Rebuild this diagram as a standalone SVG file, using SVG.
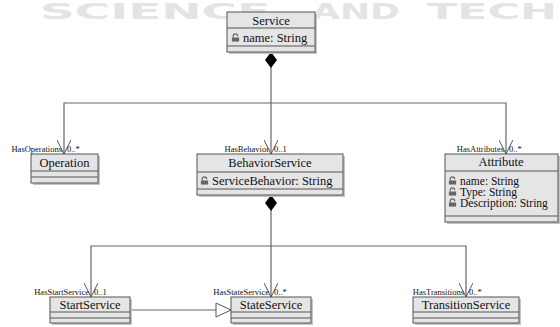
<svg xmlns="http://www.w3.org/2000/svg" width="560" height="327" viewBox="0 0 560 327">
<style>
.wm{font-family:"DejaVu Sans",sans-serif;font-weight:bold;font-size:22px;fill:#e4e4e4}
.box{fill:#e5e5e5;stroke:#555;stroke-width:1}
.sh{fill:#c4c4c4}
.sep{stroke:#555;stroke-width:1}
.t{font-family:"Liberation Serif",serif;font-size:12.5px;fill:#111}
.ta{font-family:"Liberation Serif",serif;font-size:11.5px;fill:#111}
.lb{font-family:"Liberation Serif",serif;font-size:8.5px;fill:#111}
.ln{fill:none;stroke:#666;stroke-width:1.2}
</style>
<defs>
<marker id="open" viewBox="0 0 14 14" refX="14" refY="7" markerWidth="14" markerHeight="14" markerUnits="userSpaceOnUse" orient="auto"><path d="M0,0 L14,7 L0,14" fill="none" stroke="#555" stroke-width="1"/></marker>
<marker id="dia" viewBox="0 0 16 12" refX="0" refY="6" markerWidth="16" markerHeight="12" markerUnits="userSpaceOnUse" orient="auto"><path d="M0,6 L8,0 L16,6 L8,12 Z" fill="#000"/></marker>
<marker id="tri" viewBox="0 0 17 15" refX="16" refY="7.5" markerWidth="17" markerHeight="15" markerUnits="userSpaceOnUse" orient="auto"><path d="M1,0.5 L16,7.5 L1,14.5 Z" fill="#fff" stroke="#555" stroke-width="1"/></marker>
<symbol id="lock" viewBox="0 0 10 10" width="9" height="9"><path d="M2.5,5 V3.5 A2.5,2.5 0 0 1 7.5,3.5" fill="none" stroke="#666" stroke-width="1.3"/><rect x="1" y="5" width="8" height="4.5" fill="#666"/></symbol>
</defs>
<g id="watermark">
<text class="wm" x="40" y="19" textLength="230" lengthAdjust="spacingAndGlyphs">SCIENCE</text>
<text class="wm" x="312" y="19" textLength="88" lengthAdjust="spacingAndGlyphs">AND</text>
<text class="wm" x="427" y="19" textLength="130" lengthAdjust="spacingAndGlyphs">TECH</text>
</g>
<g id="connectors">
<path class="ln" d="M271,52 V103" marker-start="url(#dia)"/>
<path class="ln" d="M271,103 H64 V154" marker-end="url(#open)"/>
<path class="ln" d="M271,103 V154" marker-end="url(#open)"/>
<path class="ln" d="M271,103 H506 V154" marker-end="url(#open)"/>
<path class="ln" d="M271,195 V246" marker-start="url(#dia)"/>
<path class="ln" d="M271,246 H91 V297" marker-end="url(#open)"/>
<path class="ln" d="M271,246 V297" marker-end="url(#open)"/>
<path class="ln" d="M271,246 H466 V297" marker-end="url(#open)"/>
<path class="ln" d="M130,310 H231" marker-end="url(#tri)"/>
<text class="lb" x="62" y="152" text-anchor="end">HasOperations</text><text class="lb" x="67" y="152">0..*</text>
<text class="lb" x="269" y="152" text-anchor="end">HasBehavior</text><text class="lb" x="274" y="152">0..1</text>
<text class="lb" x="504" y="152" text-anchor="end">HasAttributes</text><text class="lb" x="509" y="152">0..*</text>
<text class="lb" x="89" y="295" text-anchor="end">HasStartService</text><text class="lb" x="94" y="295">0..1</text>
<text class="lb" x="269" y="295" text-anchor="end">HasStateService</text><text class="lb" x="274" y="295">0..*</text>
<text class="lb" x="464" y="295" text-anchor="end">HasTransitions</text><text class="lb" x="469" y="295">0..*</text>
</g>
<g id="Service">
<rect class="sh" x="229" y="14" width="88" height="40"/>
<rect class="box" x="227" y="12" width="88" height="40"/>
<line class="sep" x1="227" y1="28" x2="315" y2="28"/><line class="sep" x1="227" y1="46" x2="315" y2="46"/>
<text class="t" x="271" y="24.5" text-anchor="middle">Service</text>
<use href="#lock" x="231" y="33"/><text class="t" x="243" y="42">name: String</text>
</g>
<g id="Operation">
<rect class="sh" x="33" y="156" width="67" height="29"/>
<rect class="box" x="31" y="154" width="67" height="29"/>
<line class="sep" x1="31" y1="171" x2="98" y2="171"/><line class="sep" x1="31" y1="177" x2="98" y2="177"/>
<text class="t" x="64.5" y="167" text-anchor="middle">Operation</text>
</g>
<g id="BehaviorService">
<rect class="sh" x="199" y="156" width="146" height="41"/>
<rect class="box" x="197" y="154" width="146" height="41"/>
<line class="sep" x1="197" y1="172" x2="343" y2="172"/><line class="sep" x1="197" y1="189" x2="343" y2="189"/>
<text class="t" x="270" y="167" text-anchor="middle">BehaviorService</text>
<use href="#lock" x="200" y="176"/><text class="t" x="212" y="185">ServiceBehavior: String</text>
</g>
<g id="Attribute">
<rect class="sh" x="447" y="156" width="113" height="68"/>
<rect class="box" x="445" y="154" width="113" height="68"/>
<line class="sep" x1="445" y1="171" x2="558" y2="171"/><line class="sep" x1="445" y1="216" x2="558" y2="216"/>
<text class="t" x="501" y="166" text-anchor="middle">Attribute</text>
<use href="#lock" x="448" y="176"/><text class="ta" x="460" y="185">name: String</text>
<use href="#lock" x="448" y="187"/><text class="ta" x="460" y="196">Type: String</text>
<use href="#lock" x="448" y="198"/><text class="ta" x="460" y="207">Description: String</text>
</g>
<g id="StartService">
<rect class="sh" x="52" y="299" width="80" height="26"/>
<rect class="box" x="50" y="297" width="80" height="26"/>
<line class="sep" x1="50" y1="312" x2="130" y2="312"/><line class="sep" x1="50" y1="318" x2="130" y2="318"/>
<text class="t" x="90" y="309" text-anchor="middle">StartService</text>
</g>
<g id="StateService">
<rect class="sh" x="233" y="299" width="80" height="26"/>
<rect class="box" x="231" y="297" width="80" height="26"/>
<line class="sep" x1="231" y1="312" x2="311" y2="312"/><line class="sep" x1="231" y1="318" x2="311" y2="318"/>
<text class="t" x="271" y="309" text-anchor="middle">StateService</text>
</g>
<g id="TransitionService">
<rect class="sh" x="415" y="299" width="106" height="26"/>
<rect class="box" x="413" y="297" width="106" height="26"/>
<line class="sep" x1="413" y1="312" x2="519" y2="312"/><line class="sep" x1="413" y1="318" x2="519" y2="318"/>
<text class="t" x="466" y="309" text-anchor="middle">TransitionService</text>
</g>
</svg>
